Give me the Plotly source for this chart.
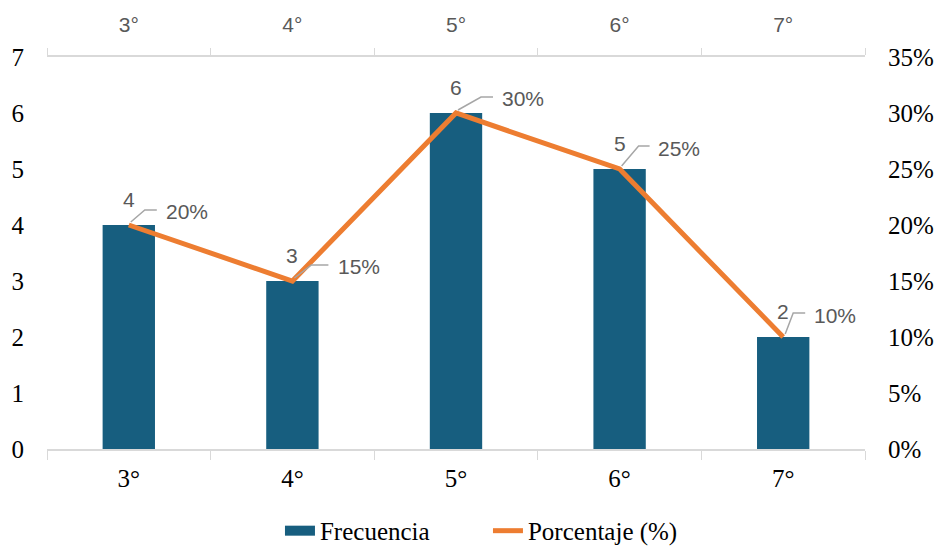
import plotly.graph_objects as go

categorias = ["3°", "4°", "5°", "6°", "7°"]
frecuencia = [4, 3, 6, 5, 2]
porcentaje = [0.20, 0.15, 0.30, 0.25, 0.10]
etiquetas_pct = ["20%", "15%", "30%", "25%", "10%"]

# label placement (pixels, relative to each line point): elbow, end of leader, text
leader_elbow = [(16, 15), (19, 16), (25, 16), (19, 23), (10, 24)]
leader_end_x = [28, 36, 37, 30, 22]
label_offset = [(37, 14), (46, 15), (46, 15), (38, 21), (31, 22)]

BAR_COLOR = "#175E7F"
LINE_COLOR = "#ED7D31"
LABEL_COLOR = "#595959"
SERIF = "Liberation Serif, Times New Roman, serif"
SANS = "Liberation Sans, Arial, sans-serif"

fig = go.Figure()
fig.add_trace(go.Bar(
    x=categorias, y=frecuencia, name="Frecuencia",
    marker=dict(color=BAR_COLOR, line=dict(width=0)),
    width=0.32, xaxis="x", yaxis="y", showlegend=False,
))
# legend entry for bars (wide rectangle like the reference)
fig.add_trace(go.Scatter(
    x=[None], y=[None], name="Frecuencia", mode="lines",
    line=dict(color=BAR_COLOR, width=16), xaxis="x", yaxis="y",
))
fig.add_trace(go.Scatter(
    x=categorias, y=porcentaje, name="Porcentaje (%)",
    mode="lines", line=dict(color=LINE_COLOR, width=5),
    xaxis="x2", yaxis="y2",
))

annotations = []
shapes = []
for c, f in zip(categorias, frecuencia):
    annotations.append(dict(
        x=c, y=f, xref="x", yref="y", text=str(f), showarrow=False,
        yshift=26, font=dict(family=SANS, size=21, color=LABEL_COLOR),
    ))
for i, (c, p, t) in enumerate(zip(categorias, porcentaje, etiquetas_pct)):
    tx, ty = label_offset[i]
    ex, ey = leader_elbow[i]
    annotations.append(dict(
        x=c, y=p, xref="x2", yref="y2", text=t, showarrow=False,
        xanchor="left", xshift=tx - 2, yshift=ty,
        font=dict(family=SANS, size=21, color=LABEL_COLOR),
    ))
    shapes.append(dict(
        type="path", xref="x2", yref="y2", xsizemode="pixel", ysizemode="pixel",
        xanchor=c, yanchor=p,
        path=f"M 2,3 L {ex},{ey} L {leader_end_x[i]},{ey}",
        line=dict(color="#A6A6A6", width=1.5),
    ))

# page body has an 8px margin: figure is 8px smaller so it fits the window
fig.update_layout(
    width=935, height=538,
    margin=dict(l=39, r=78, t=49, b=97, autoexpand=False),
    paper_bgcolor="white", plot_bgcolor="white",
    showlegend=True,
    legend=dict(
        orientation="h", x=0.2848, xanchor="left", y=-0.209, yanchor="middle",
        font=dict(family=SERIF, size=25, color="#000000"),
        tracegroupgap=0, entrywidth=163, entrywidthmode="pixels",
    ),
    xaxis=dict(
        type="category", showline=True, linecolor="#D9D9D9", linewidth=1.5,
        ticks="outside", tickson="boundaries", ticklen=9, tickcolor="#D9D9D9",
        ticklabelstandoff=6,
        tickfont=dict(family=SERIF, size=25, color="#000000"),
        showgrid=False, zeroline=False, automargin=False,
    ),
    xaxis2=dict(
        type="category", overlaying="x", side="top", matches="x",
        showline=True, linecolor="#D9D9D9", linewidth=1.5,
        ticks="outside", tickson="boundaries", ticklen=7, tickcolor="#D9D9D9",
        ticklabelstandoff=15,
        tickfont=dict(family=SANS, size=21, color=LABEL_COLOR),
        showgrid=False, zeroline=False, automargin=False,
    ),
    yaxis=dict(
        range=[0, 7], dtick=1, showgrid=False, zeroline=False, showline=False,
        ticks="", ticklabelstandoff=22,
        tickfont=dict(family=SERIF, size=25, color="#000000"),
        automargin=False,
    ),
    yaxis2=dict(
        range=[0, 0.35], dtick=0.05, tickformat=".0%", overlaying="y", side="right",
        showgrid=False, zeroline=False, showline=False,
        ticks="", ticklabelstandoff=22,
        tickfont=dict(family=SERIF, size=25, color="#000000"),
        automargin=False,
    ),
    annotations=annotations,
    shapes=shapes,
)

fig.write_html("out.html")
